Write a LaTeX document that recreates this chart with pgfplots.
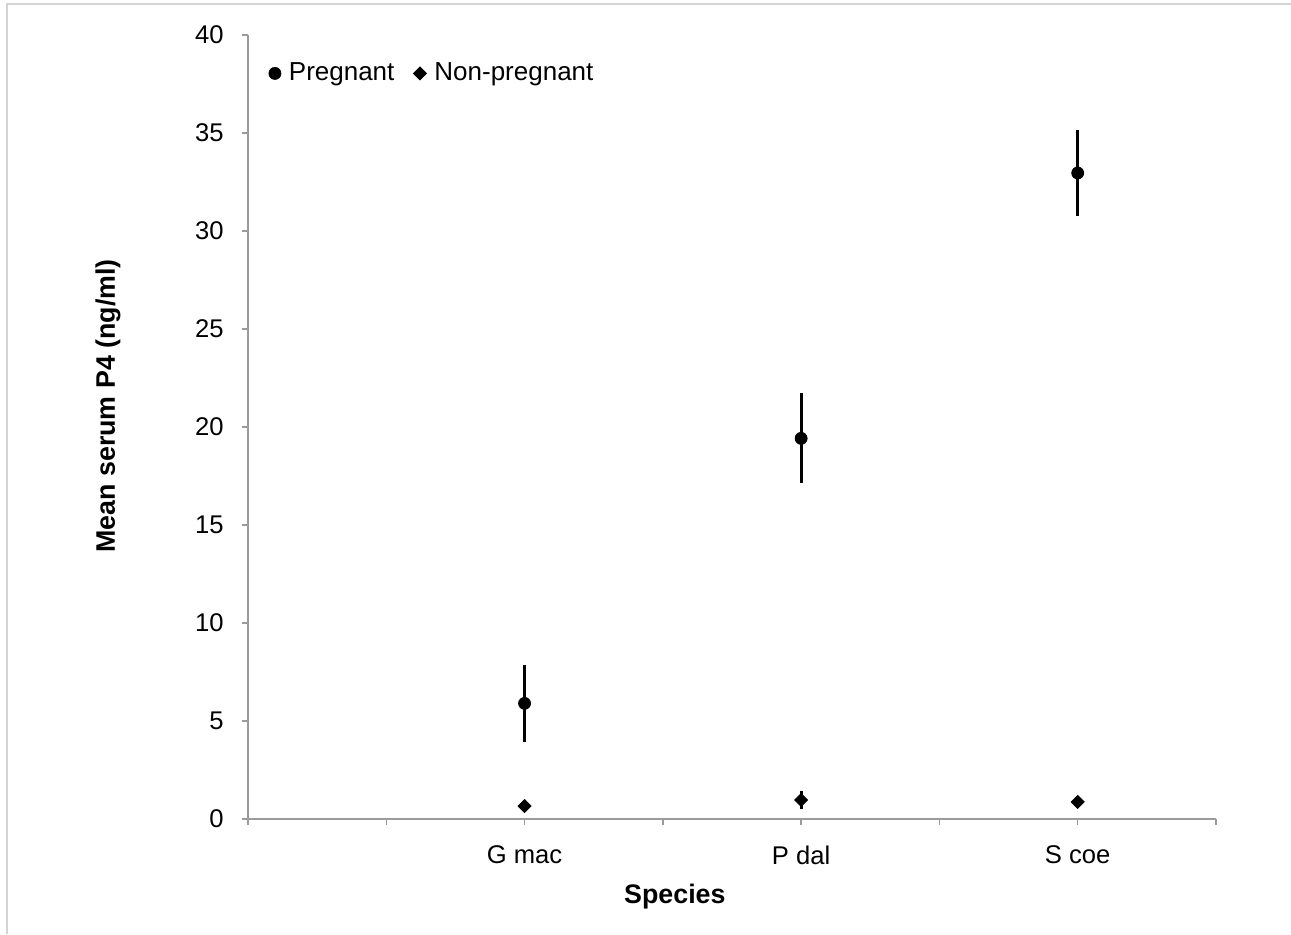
\documentclass[border=0pt]{standalone}
\usepackage{fontspec}
\setmainfont{Liberation Sans}
\usepackage{pgfplots}
\pgfplotsset{compat=1.18}
\definecolor{axisgray}{RGB}{155,155,155}
\definecolor{framegray}{RGB}{212,212,212}
\begin{document}
\begin{tikzpicture}
\useasboundingbox (-124pt,-57.5pt) rectangle (521.5pt,409.5pt);
\draw[framegray, line width=1pt] (-120.5pt,-57.5pt) -- (-120.5pt,407.5pt) -- (521.5pt,407.5pt);
\begin{axis}[
  at={(0pt,0pt)}, anchor=south west,
  scale only axis, width=484pt, height=392pt,
  xmin=0, xmax=3.5, ymin=0, ymax=40,
  axis x line*=bottom, axis y line*=left,
  axis line style={axisgray, line width=0.75pt},
  xtick={0,0.5,1,1.5,2,2.5,3,3.5},
  xticklabels={,,G mac,,P dal,,S coe,},
  ytick={0,5,10,15,20,25,30,35,40},
  tick style={axisgray, line width=0.75pt},
  tick align=outside, major tick length=3pt,
  /pgf/number format/assume math mode=true,
  tick label style={font=\fontsize{12.8}{15}\selectfont, black},
  yticklabel style={anchor=east, inner sep=0pt, xshift=-9pt},
  xticklabel style={anchor=center, inner sep=0pt, yshift=-15pt},
  xlabel={Species},
  ylabel={Mean serum P4 (ng/ml)},
  label style={font=\fontsize{13.4}{16}\selectfont\bfseries},
  xlabel style={at={(axis description cs:0.441,-0.099)}, anchor=center},
  ylabel style={at={(axis description cs:-0.1446,0.527)}, anchor=center},
  legend style={at={(axis description cs:0.015,0.951)}, anchor=west, draw=none, fill=none,
    font=\fontsize{13}{16}\selectfont, /tikz/every even column/.append style={column sep=7.5pt},
    /tikz/every odd column/.append style={column sep=2pt}},
  legend columns=2,
  legend cell align=left,
  legend image code/.code={\draw[#1] plot coordinates {(0pt,0pt)};},
]
\addplot[only marks, mark=*, mark size=3pt, black,
  error bars/.cd, y dir=both, y explicit, error mark=none,
  error bar style={line width=1.5pt, black}]
  coordinates {(1,5.90) +- (0,1.96) (2,19.42) +- (0,2.30) (3,32.96) +- (0,2.17)};
\addlegendentry{Pregnant}
\addplot[only marks, mark=square*, mark options={rotate=45}, mark size=2.3pt, black,
  error bars/.cd, y dir=both, y explicit, error mark=none,
  error bar style={line width=1.5pt, black}]
  coordinates {(1,0.66) +- (0,0) (2,0.97) +- (0,0.45) (3,0.87) +- (0,0)};
\addlegendentry{Non-pregnant}
\end{axis}
\end{tikzpicture}
\end{document}
